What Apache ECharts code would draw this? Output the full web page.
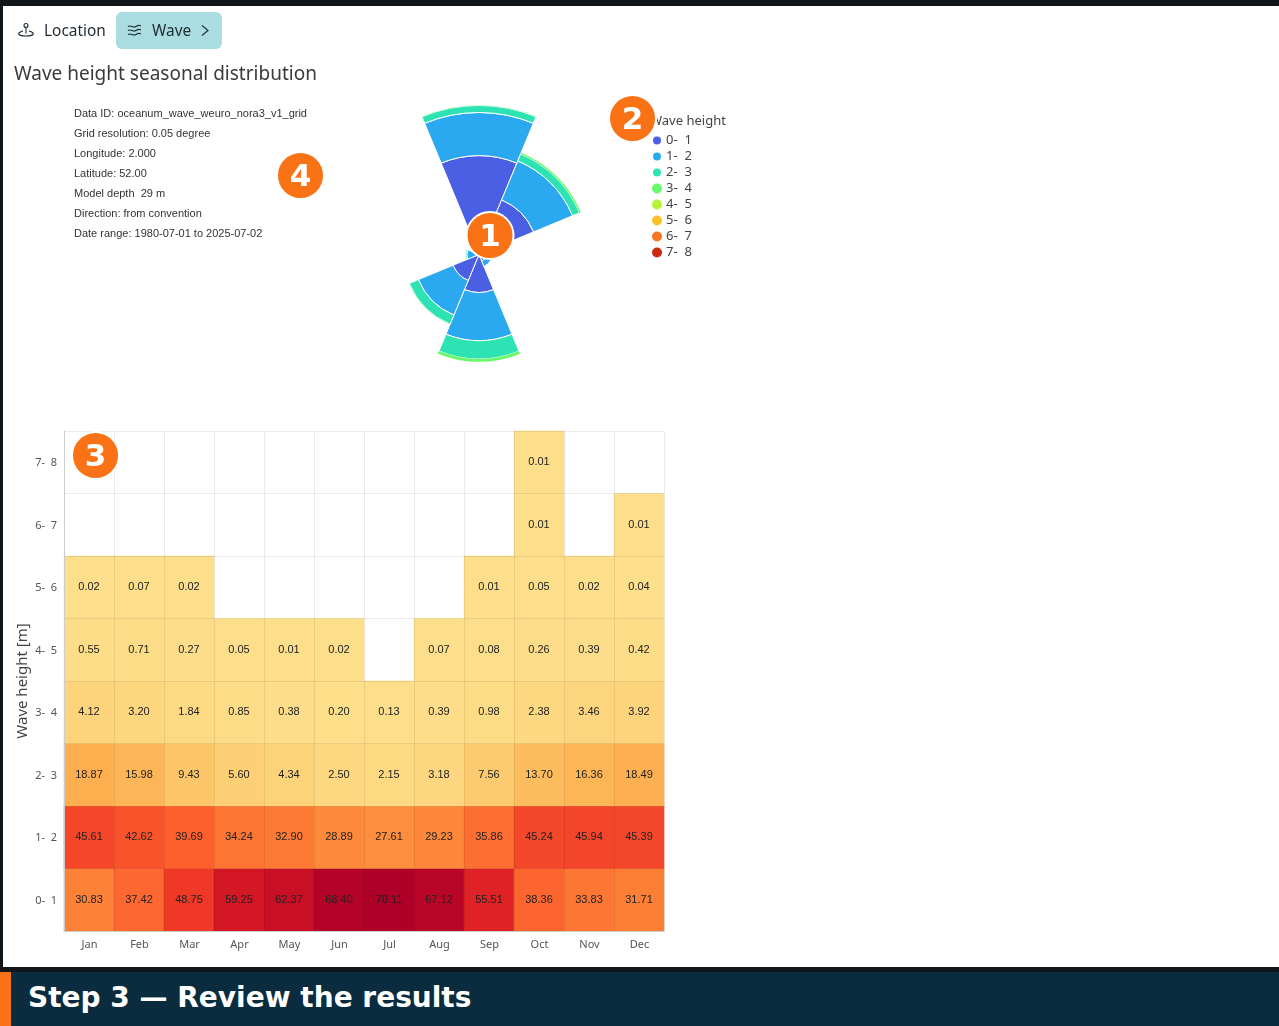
<!DOCTYPE html>
<html>
<head>
<meta charset="utf-8">
<title>Wave height seasonal distribution</title>
<script src="https://cdn.jsdelivr.net/npm/echarts@6/dist/echarts.min.js"></script>
<style>
  html, body { margin: 0; padding: 0; width: 1279px; height: 1026px; overflow: hidden; background: #10161a; font-family: "Noto Sans", sans-serif; }
  #page { position: absolute; left: 3px; top: 6px; width: 1276px; height: 961px; background: #fff; }
  #chart { position: absolute; left: 0; top: 0; width: 1279px; height: 1026px; }
  .tab { position: absolute; top: 12px; height: 37px; line-height: 37px; font-size: 15.4px; color: #1f2a33; }
  #tabLocation { left: 44px; }
  #tabWave { left: 116px; width: 106px; background: #a9dde1; border-radius: 6px; }
  #tabWave span { position: absolute; left: 36px; }
  .tab svg { position: absolute; fill: none; stroke: #1f2a33; stroke-width: 1.1; }
  #heading { position: absolute; left: 14px; top: 59px; font-size: 19px; line-height: 28px; color: #3a3a3a; }
  #banner { position: absolute; left: 0; top: 972px; width: 1279px; height: 54px; background: #0b2c3f; }
  #banner i { position: absolute; left: 0; top: 0; width: 11px; height: 54px; background: #f97316; }
  #banner b { position: absolute; left: 28px; top: 7px; line-height: 38px; font-size: 28px; font-family: "DejaVu Sans", sans-serif; color: #fff; }
</style>
</head>
<body>
<div id="page"></div>
<div id="chart"></div>
<svg style="left:17px;top:21px;width:18px;height:18px;position:absolute;fill:none;stroke:#1f2a33;stroke-width:1.1" viewBox="0 0 18 18">
  <circle cx="9" cy="4.5" r="2"/><path d="M9 6.5V12.5M6 10C2.5 11 1 12.5 2 13.5C4 15.5 14 15.5 16 13.5C17 12.5 15.5 11 12 10"/>
</svg>
<div class="tab" id="tabLocation">Location</div>
<div class="tab" id="tabWave">
  <svg style="left:11px;top:11px" width="15" height="15" viewBox="0 0 15 15"><path d="M1 3.5c3-2 5 2 8 0s3-1 5-.5M1 7.5c3-2 5 2 8 0s3-1 5-.5M1 11.5c3-2 5 2 8 0s3-1 5-.5"/></svg>
  <span>Wave</span>
  <svg style="left:83px;top:12px" width="12" height="13" viewBox="0 0 12 13"><path d="M3 1.5l6 5-6 5"/></svg>
</div>
<div id="heading">Wave height seasonal distribution</div>
<div id="banner"><i></i><b>Step 3 — Review the results</b></div>
<script>
// Height bins and calendar axes
const heightBins = ['0-  1', '1-  2', '2-  3', '3-  4', '4-  5', '5-  6', '6-  7', '7-  8'];
const months = ['Jan', 'Feb', 'Mar', 'Apr', 'May', 'Jun', 'Jul', 'Aug', 'Sep', 'Oct', 'Nov', 'Dec'];
const directions = ['N', 'NE', 'E', 'SE', 'S', 'SW', 'W', 'NW'];

// Seasonal occurrence per height bin, one value per month (empty cells are null)
const bin0to1 = [30.83, 37.42, 48.75, 59.25, 62.37, 68.40, 70.11, 67.12, 55.51, 38.36, 33.83, 31.71];
const bin1to2 = [45.61, 42.62, 39.69, 34.24, 32.90, 28.89, 27.61, 29.23, 35.86, 45.24, 45.94, 45.39];
const bin2to3 = [18.87, 15.98, 9.43, 5.60, 4.34, 2.50, 2.15, 3.18, 7.56, 13.70, 16.36, 18.49];
const bin3to4 = [4.12, 3.20, 1.84, 0.85, 0.38, 0.20, 0.13, 0.39, 0.98, 2.38, 3.46, 3.92];
const bin4to5 = [0.55, 0.71, 0.27, 0.05, 0.01, 0.02, null, 0.07, 0.08, 0.26, 0.39, 0.42];
const bin5to6 = [0.02, 0.07, 0.02, null, null, null, null, null, 0.01, 0.05, 0.02, 0.04];
const bin6to7 = [null, null, null, null, null, null, null, null, null, 0.01, null, 0.01];
const bin7to8 = [null, null, null, null, null, null, null, null, null, 0.01, null, null];
const seasonalRows = [bin0to1, bin1to2, bin2to3, bin3to4, bin4to5, bin5to6, bin6to7, bin7to8];

// Directional occurrence per height bin, one value per sector
const rose0to1 = [21.1, 12.6, 0.9, 1.5, 8.1, 6.0, 0.7, 0.6];
const rose1to2 = [9.2, 9.0, 0.6, 1.3, 10.3, 8.0, 1.9, 0.5];
const rose2to3 = [1.5, 1.6, 0.1, 0.1, 3.9, 2.1, 0.3, 0.1];
const rose3to4 = [0.05, 0.3, 0, 0, 0.6, 0.05, 0, 0];
const rose4to5 = [0, 0.02, 0, 0, 0.03, 0.01, 0, 0];
const rose5to6 = [0, 0, 0, 0, 0, 0, 0, 0];
const rose6to7 = [0, 0, 0, 0, 0, 0, 0, 0];
const rose7to8 = [0, 0, 0, 0, 0, 0, 0, 0];
const roseRows = [rose0to1, rose1to2, rose2to3, rose3to4, rose4to5, rose5to6, rose6to7, rose7to8];

const binColors = ['#4a5fe4', '#2ba9f0', '#2de3b4', '#66fa6b', '#b5f23a', '#fbbf28', '#f9751f', '#cb2a0d'];
const heatColors = ['#fdde8a', '#fdc566', '#fdac4d', '#fd8538', '#fd5e2d', '#ee3226', '#d01424', '#af0028'];

const metadataLines = [
  'Data ID: oceanum_wave_weuro_nora3_v1_grid',
  'Grid resolution: 0.05 degree',
  'Longitude: 2.000',
  'Latitude: 52.00',
  'Model depth  29 m',
  'Direction: from convention',
  'Date range: 1980-07-01 to 2025-07-02'
];

// Numbered callouts placed over the panels
const callouts = [
  { n: '1', x: 490, y: 235.5 },
  { n: '2', x: 632.5, y: 118.5 },
  { n: '3', x: 95.5, y: 455.5 },
  { n: '4', x: 300.5, y: 175.5 }
];

const uiFont = '"Noto Sans", sans-serif';
const cellFont = '"Liberation Sans", sans-serif';

const heatCells = [];
seasonalRows.forEach((row, r) => row.forEach((v, c) => {
  if (v !== null) heatCells.push([c, r, v]);
}));

const roseSeries = roseRows.map((values, i) => ({
  name: heightBins[i],
  type: 'bar',
  coordinateSystem: 'polar',
  stack: 'rose',
  barCategoryGap: '0%',
  data: values,
  itemStyle: { color: binColors[i], borderColor: '#fff', borderWidth: i < 3 ? 1 : 0 },
  silent: true
}));

const gridLine = { show: true, lineStyle: { color: 'rgba(0,0,0,0.075)', width: 1 } };

const option = {
  animation: false,
  title: [
    {
      text: metadataLines.join('\n'), left: 74, top: 104, padding: 0,
      textStyle: { fontFamily: cellFont, fontSize: 11, fontWeight: 'normal', color: '#333', lineHeight: 20 }
    },
    {
      text: 'Wave height', left: 650, top: 115, padding: 0,
      textStyle: { fontFamily: uiFont, fontSize: 13, fontWeight: 'normal', color: '#444' }
    }
  ],
  legend: {
    orient: 'vertical', left: 651, top: 134, padding: 0,
    icon: 'circle', itemWidth: 10, itemHeight: 10, itemGap: 3, selectedMode: false,
    data: heightBins,
    textStyle: { fontFamily: uiFont, fontSize: 13, color: '#444', padding: [0, 0, 0, -1], lineHeight: 13, height: 13 }
  },
  polar: { center: [479, 254.5], radius: [0, 150] },
  angleAxis: { type: 'category', data: directions, startAngle: 112.5, show: false },
  radiusAxis: { type: 'value', min: 0, max: 32, show: false },
  grid: { left: 64, top: 431, width: 600, height: 500, containLabel: false },
  xAxis: {
    type: 'category', data: months, z: 5,
    axisLine: { lineStyle: { color: '#ccc' } },
    axisTick: { alignWithLabel: false, length: 5, lineStyle: { color: '#ccc' } },
    axisLabel: { fontFamily: uiFont, fontSize: 11, color: '#555', margin: 8, padding: [0, 0, 0, 1] },
    splitLine: gridLine, splitArea: { show: false }
  },
  yAxis: {
    type: 'category', data: heightBins, z: 5,
    name: 'Wave height [m]', nameLocation: 'middle', nameGap: 34, nameRotate: 90,
    nameTextStyle: { fontFamily: uiFont, fontSize: 15, color: '#444' },
    axisLine: { lineStyle: { color: '#ccc' } },
    axisTick: { length: 5, lineStyle: { color: '#ccc' } },
    axisLabel: {
      margin: 7,
      formatter: v => '{bin|' + v + '}',
      rich: { bin: { fontFamily: uiFont, fontSize: 11, color: '#555', padding: [2, 0, 0, 0] } }
    },
    splitLine: gridLine, splitArea: { show: false }
  },
  visualMap: {
    show: false, type: 'continuous', seriesIndex: roseSeries.length, dimension: 2,
    min: 0, max: 70.11, inRange: { color: heatColors }
  },
  series: roseSeries.concat([{
    name: 'Seasonal distribution',
    type: 'heatmap',
    data: heatCells,
    silent: true,
    label: {
      show: true, fontFamily: cellFont, fontSize: 11, color: '#222',
      formatter: p => p.value[2].toFixed(2)
    }
  }]),
  graphic: callouts.flatMap(c => [
    { type: 'circle', z: 100, shape: { cx: c.x, cy: c.y, r: 23.5 }, style: { fill: '#f97316', stroke: '#fff', lineWidth: 2 } },
    {
      type: 'text', z: 101, x: c.x, y: c.y + 2,
      style: {
        text: c.n, fill: '#fff', align: 'center', verticalAlign: 'middle',
        fontFamily: '"DejaVu Sans", sans-serif', fontWeight: 'bold', fontSize: 31
      }
    }
  ])
};

const chart = echarts.init(document.getElementById('chart'), null, { renderer: 'canvas', width: 1279, height: 1026 });
chart.setOption(option);
</script>
</body>
</html>
